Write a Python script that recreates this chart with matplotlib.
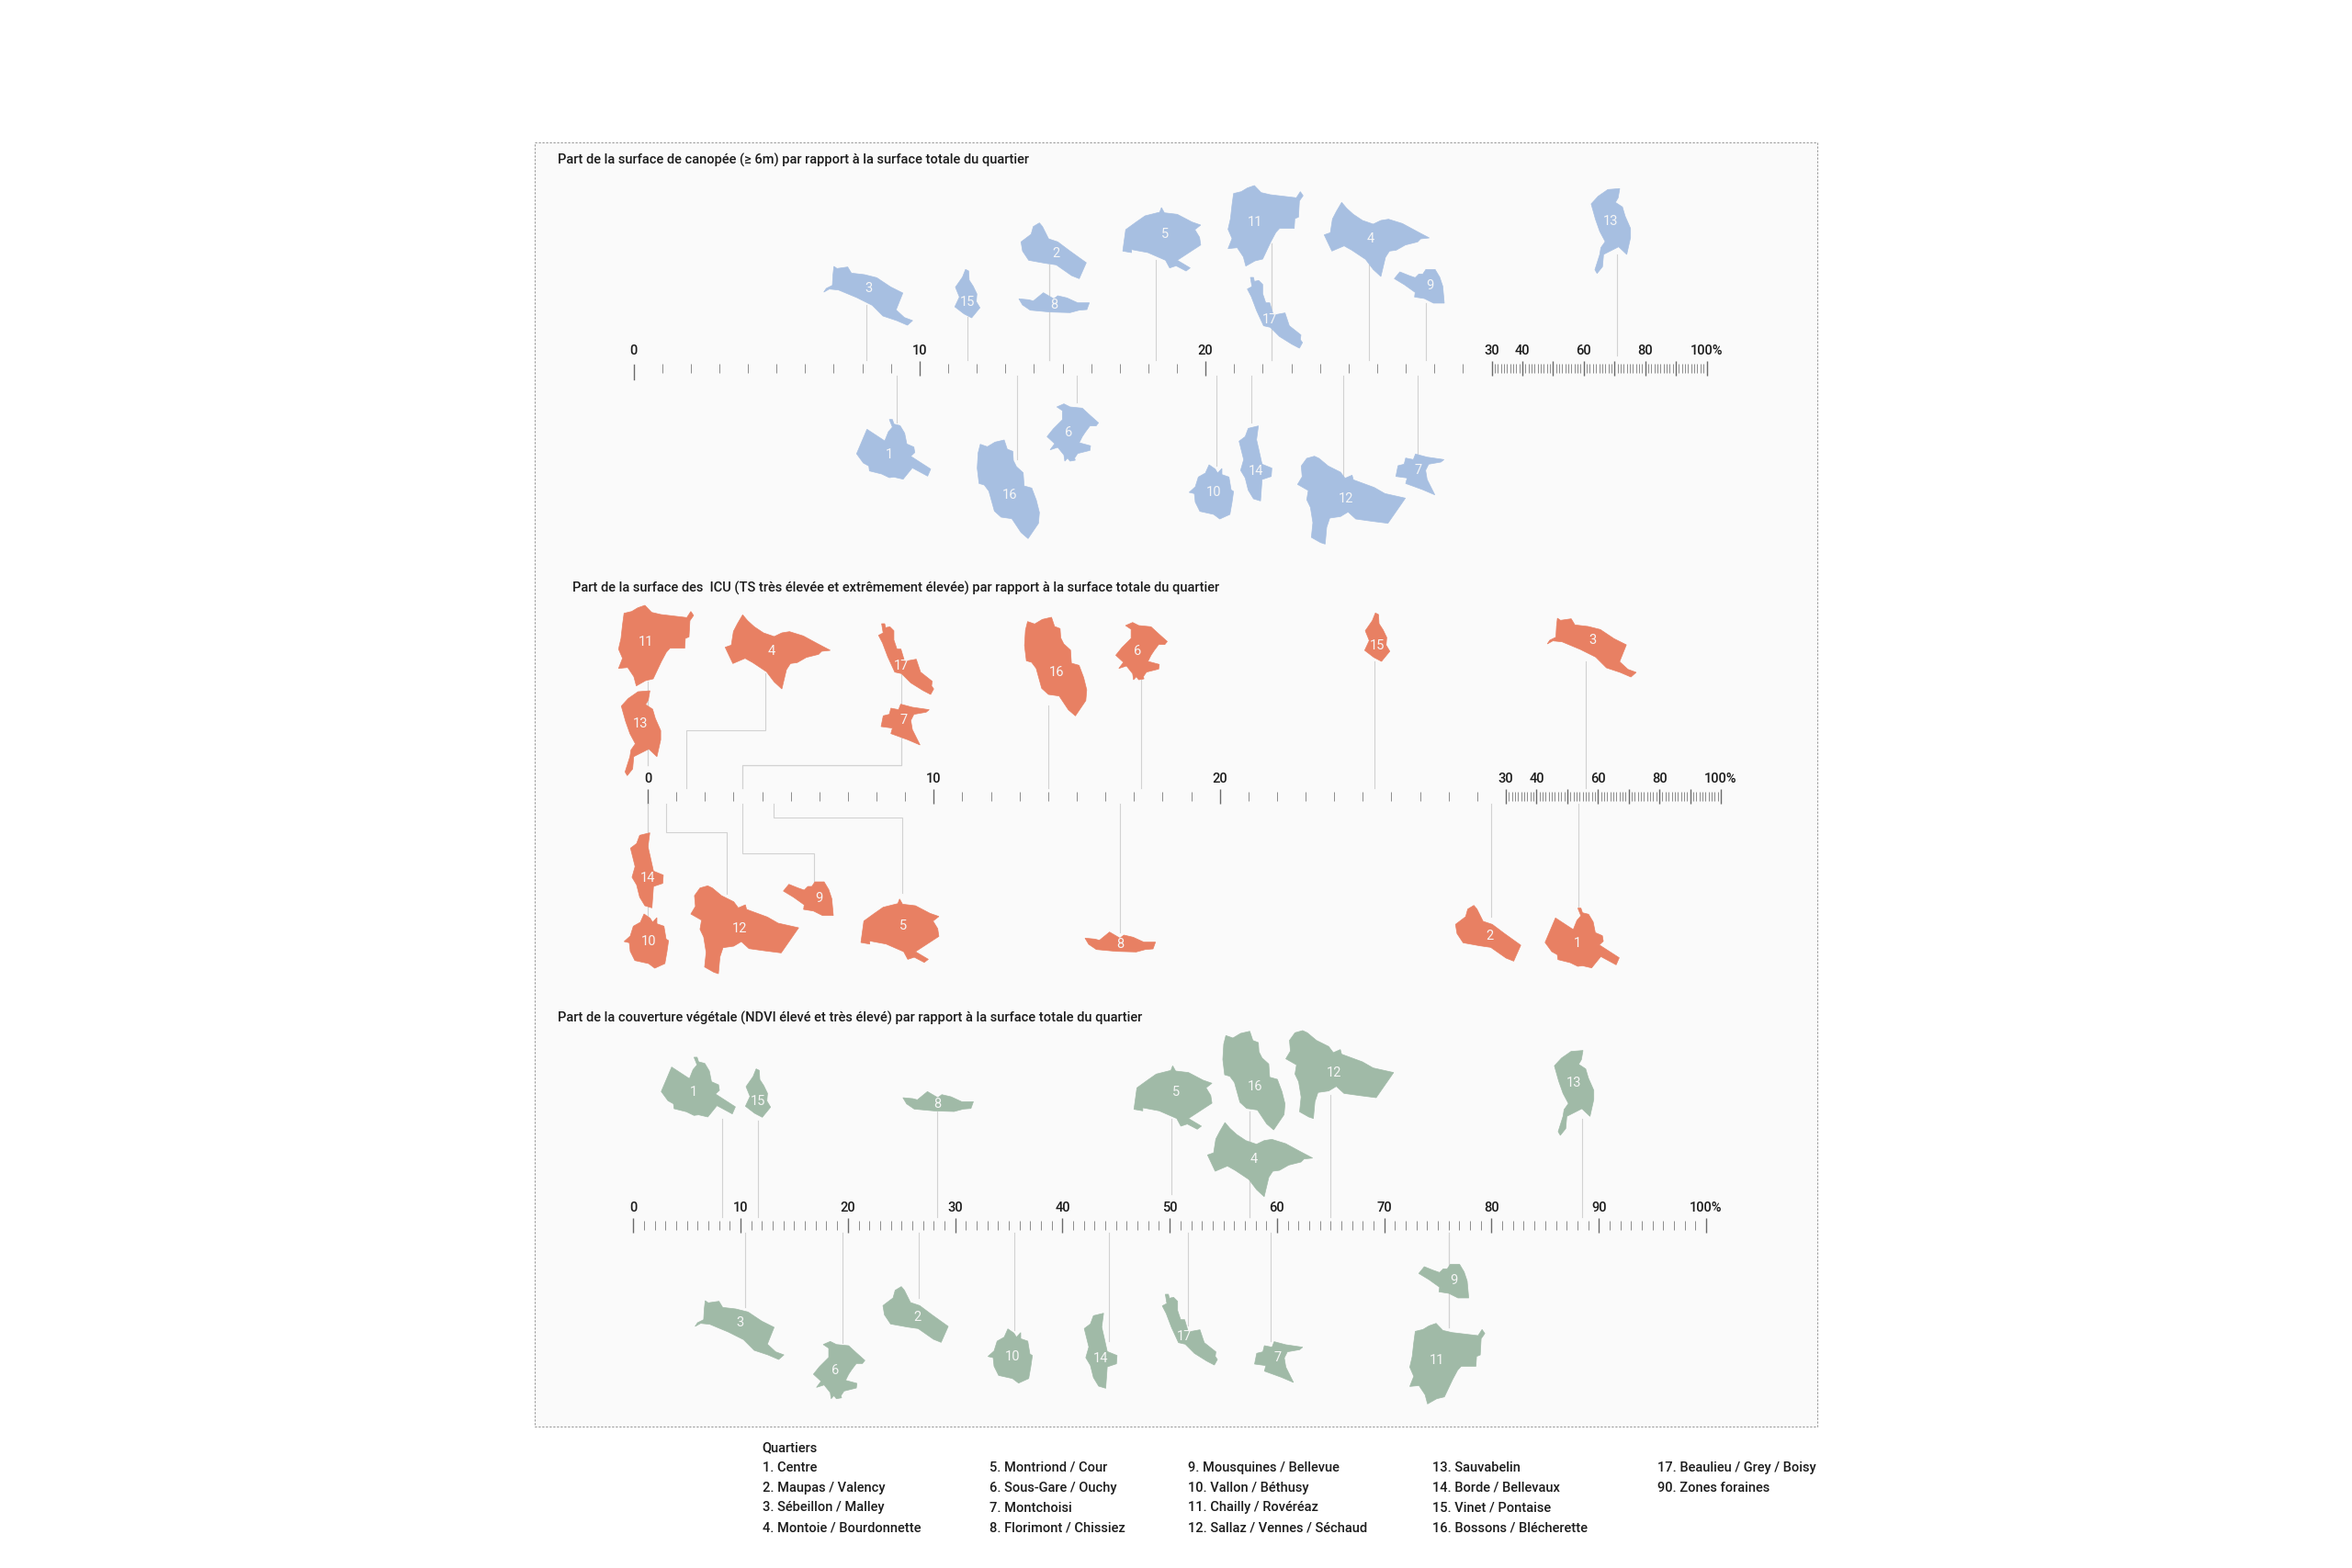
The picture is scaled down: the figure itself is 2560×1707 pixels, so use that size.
import matplotlib
matplotlib.use("Agg")
import matplotlib.pyplot as plt
import numpy as np
from matplotlib.patches import Polygon, Rectangle

plt.rcParams['font.family'] = ['Roboto', 'DejaVu Sans']

W, H = 2560, 1707

QUARTIERS = list(range(1, 18))

# share of each quartier (quartiers 1 to 17)
canopy_values = [9.2, 14.55, 8.15, 25.7, 18.26, 15.5, 27.4, 14.55, 27.7, 20.37, 22.3, 24.8, 70.9, 21.6, 11.66, 13.4, 22.3]
icu_values = [53.5, 29.5, 55.9, 1.36, 4.4, 17.26, 3.3, 16.5, 3.3, 0, 0, 0.64, 0, 0, 25.4, 14.0, 3.3]
ndvi_values = [8.3, 26.6, 10.45, 57.4, 50.2, 19.5, 59.4, 28.3, 76, 35.5, 76, 65, 88.4, 44.3, 11.6, 57.4, 51.7]

titles = [
    "Part de la surface de canopée (≥ 6m) par rapport à la surface totale du quartier",
    "Part de la surface des  ICU (TS très élevée et extrêmement élevée) par rapport à la surface totale du quartier",
    "Part de la couverture végétale (NDVI élevé et très élevé) par rapport à la surface totale du quartier",
]

short_ticks = [0, 10, 20, 30, 40, 50, 60, 70, 80, 90, 100]
short_labels = ["0", "10", "20", "30", "40", "", "60", "", "80", "", "100%"]
full_labels = ["0", "10", "20", "30", "40", "50", "60", "70", "80", "90", "100%"]

legend_title = "Quartiers"
legend_cols = [
    ["1. Centre", "2. Maupas / Valency", "3. Sébeillon / Malley", "4. Montoie / Bourdonnette"],
    ["5. Montriond / Cour", "6. Sous-Gare / Ouchy", "7. Montchoisi", "8. Florimont / Chissiez"],
    ["9. Mousquines / Bellevue", "10. Vallon / Béthusy", "11. Chailly / Rovéréaz", "12. Sallaz / Vennes / Séchaud"],
    ["13. Sauvabelin", "14. Borde / Bellevaux", "15. Vinet / Pontaise", "16. Bossons / Blécherette"],
    ["17. Beaulieu / Grey / Boisy", "90. Zones foraines"],
]

shape_refs = {
    1: (115, 195, 3), 2: (778, 138, 3), 3: (170, 250, 3), 4: (457, 195, 3),
    5: (1079, 315, 1.568), 6: (700, 122, 3), 7: (762, 185, 3), 8: (772, 305, 3),
    9: (647, 348, 3), 10: (95, 258, 3), 11: (80, 142, 3), 12: (528, 282, 3),
    13: (1113, 182, 1.704), 14: (230, 188, 3), 15: (490, 297, 3), 16: (508, 328, 3),
    17: (128, 460, 3),
}
shape_points = {
    1: [(115,80),(125,80),(130,95),(150,100),(165,125),(172,160),(195,170),(198,188),(185,200),(250,242),(240,265),(190,238),(160,275),(130,268),(115,270),(90,258),(50,248),(48,232),(30,222),(8,192),(42,112),(100,150),(112,120),(125,105)],
    2: [(725,38),(735,50),(755,90),(785,100),(825,130),(878,168),(855,220),(830,210),(780,175),(745,170),(690,160),(670,130),(665,100),(698,75),(705,50)],
    3: [(55,178),(65,185),(100,180),(112,200),(155,205),(195,215),(240,245),(280,265),(258,320),(285,345),(312,355),(295,370),(260,355),(215,340),(180,305),(130,280),(70,255),(40,252),(22,262),(30,250),(50,240),(52,205)],
    4: [(362,76),(378,95),(400,115),(430,135),(465,147),(490,135),(515,131),(560,145),(610,172),(648,192),(620,195),(610,205),(570,215),(540,232),(518,235),(505,255),(490,318),(465,295),(440,262),(395,232),(370,218),(330,235),(305,182),(325,175),(332,130),(345,105)],
    5: [(1073,228),(1078,245),(1100,250),(1125,275),(1140,285),(1130,300),(1138,325),(1140,350),(1100,400),(1122,425),(1115,435),(1098,418),(1087,425),(1080,400),(1050,375),(1022,365),(1022,375),(1007,370),(1012,300),(1030,275),(1045,255),(1070,243)],
    6: [(662,38),(685,28),(705,38),(745,42),(770,65),(798,90),(790,100),(770,100),(755,120),(745,135),(735,155),(772,165),(770,180),(730,190),(720,205),(722,212),(705,215),(697,205),(688,215),(685,195),(665,170),(640,178),(655,158),(630,135),(650,110),(680,80),(680,50)],
    7: [(752,132),(790,142),(845,150),(835,158),(795,165),(785,185),(790,215),(815,265),(775,248),(720,228),(725,210),(688,205),(695,170),(715,165),(720,145),(745,150)],
    8: [(658,285),(690,288),(705,292),(738,265),(772,285),(785,275),(815,282),(850,298),(888,298),(880,320),(855,322),(825,330),(760,328),(695,322),(670,305)],
    9: [(550,303),(580,315),(600,322),(612,310),(625,310),(635,295),(665,295),(680,320),(690,350),(695,405),(660,405),(630,390),(598,385),(600,370),(565,345),(532,325)],
    10: [(80,168),(100,182),(108,195),(122,180),(122,200),(145,208),(152,250),(160,255),(155,290),(148,330),(115,345),(95,330),(50,320),(35,290),(32,262),(15,258),(35,240),(45,208),(68,195)],
    11: [(78,22),(100,45),(130,52),(215,62),(228,42),(237,55),(225,72),(222,125),(210,130),(208,162),(160,162),(148,175),(132,205),(105,262),(80,268),(50,285),(42,255),(22,225),(-8,228),(5,195),(-8,165),(0,130),(5,85),(10,48),(35,42),(55,30)],
    12: [(425,143),(440,150),(470,175),(510,195),(525,215),(548,205),(552,220),(620,245),(655,265),(722,280),(665,362),(610,355),(560,348),(535,325),(510,340),(475,345),(465,375),(460,430),(445,425),(415,408),(420,360),(412,310),(400,285),(405,255),(370,235),(385,210),(382,175),(400,150)],
    13: [(1108,78),(1130,75),(1127,105),(1122,120),(1135,135),(1140,165),(1150,205),(1150,235),(1143,290),(1128,265),(1100,290),(1098,330),(1088,352),(1084,340),(1093,290),(1095,268),(1103,248),(1093,215),(1085,175),(1077,125),(1090,100)],
    14: [(238,40),(232,85),(240,120),(250,165),(282,178),(280,205),(250,215),(245,285),(222,278),(205,250),(195,210),(180,185),(190,150),(175,90),(195,75),(205,48)],
    15: [(485,190),(495,195),(497,225),(510,245),(522,270),(520,295),(532,315),(505,348),(480,335),(450,312),(465,280),(452,248),(475,215)],
    16: [(412,162),(435,170),(460,155),(490,148),(500,178),(518,185),(520,215),(530,235),(552,255),(555,298),(580,305),(595,345),(605,385),(602,420),(585,445),(568,470),(545,450),(515,405),(480,400),(458,380),(440,315),(425,295),(408,290),(402,240),(405,190)],
    17: [(65,322),(75,322),(78,335),(92,332),(105,345),(105,375),(115,405),(128,405),(140,445),(178,438),(192,480),(230,510),(228,525),(235,535),(225,553),(200,540),(160,515),(130,485),(108,480),(85,430),(68,385),(55,360),(70,352)],
}

# where each quartier sits in its panel
canopy_pos = {1: (968, 495), 2: (1149, 276), 3: (946, 314), 4: (1492, 260), 5: (1268, 255), 6: (1163, 471),
              7: (1544, 512), 8: (1147, 332), 9: (1556, 311), 10: (1321, 536), 11: (1366, 242), 12: (1465, 543),
              13: (1753, 241), 14: (1367, 513), 15: (1052.6, 329), 16: (1099, 539), 17: (1382, 348)}
icu_pos = {1: (1717.4, 1027), 2: (1621.9, 1019), 3: (1733.5, 697), 4: (840, 709), 5: (983, 1007.7), 6: (1237.8, 709),
           7: (983.7, 784.3), 8: (1219, 1028), 9: (891, 977.7), 10: (706, 1025), 11: (702.6, 699), 12: (804.6, 1010.7),
           13: (697.4, 787.7), 14: (704.6, 956), 15: (1498.7, 703), 16: (1150.5, 732), 17: (980.6, 725)}
ndvi_pos = {1: (755.4, 1189.3), 2: (998.7, 1434), 3: (805.9, 1440), 4: (1365, 1261.7), 5: (1280.2, 1189.3), 6: (908.7, 1491.7),
            7: (1390.2, 1478.3), 8: (1020.8, 1201.7), 9: (1582.6, 1394), 10: (1102, 1476.7), 11: (1563.8, 1480.7), 12: (1452.2, 1168.3),
            13: (1713, 1179.3), 14: (1198.5, 1479), 15: (824.7, 1199.3), 16: (1366.3, 1182.7), 17: (1289.4, 1455)}

# far end of each leader line
canopy_far = {1: 460, 2: 288, 3: 332, 4: 288, 5: 283, 6: 438, 7: 495, 8: 288, 9: 330, 10: 507, 11: 265, 12: 520,
              13: 277, 14: 460, 15: 345, 16: 500, 17: 265}
icu_far = {1: 987, 2: 998, 3: 720, 4: 733, 5: 972, 6: 740, 7: 808, 8: 1015, 9: 960, 10: 1025, 11: 742, 12: 973,
           13: 760, 14: 907, 15: 720, 16: 768, 17: 725}
ndvi_far = {1: 1218, 2: 1413, 3: 1423, 4: 1210, 5: 1218, 6: 1462, 7: 1460, 8: 1210, 9: 1445, 10: 1448, 11: 1445,
            12: 1192, 13: 1218, 14: 1460, 15: 1220, 16: 1210, 17: 1443}

# leaders that stop short of the axis, to leave the tick label free
canopy_gap = {13: 5}
icu_gap = {11: 25, 13: 25}
ndvi_gap = {5: 25}

# elbows of the crowded ICU leaders: (y of the horizontal run, x of the vertical run at the shape)
icu_elbows = {4: (795, 832.7), 7: (833, 980.6), 17: (833, 980.6), 12: (905.7, 791.3), 9: (929.3, 886.2), 5: (890.3, 982)}

BLUE = "#a7bfe1"
ORANGE = "#e88063"
GREEN = "#a0baa7"
PANEL_BG = "#fafafa"
LEADER = "#d2d2d2"
TEXT = "#1c1c1c"

fig = plt.figure(figsize=(W / 100, H / 100), dpi=100, facecolor="white")
base = fig.add_axes([0, 0, 1, 1], zorder=2)
base.set_xlim(0, W)
base.set_ylim(H, 0)
base.axis("off")
base.patch.set_visible(False)

bg = fig.add_axes([0, 0, 1, 1], zorder=0)
bg.set_xlim(0, W)
bg.set_ylim(H, 0)
bg.axis("off")
bg.add_patch(Rectangle((581.5, 155), 1396.5, 1397.5, facecolor=PANEL_BG, edgecolor="#9a9a9a",
                       lw=0.8, linestyle=(0, (2, 1.6))))


def make_scale_axes(knot_vals, knot_px, top, labels):
    # one axes per panel, the share scale is the x axis itself
    knot_px = np.array(knot_px, dtype=float)
    ax = fig.add_axes([knot_px[0] / W, 0, (knot_px[-1] - knot_px[0]) / W, 1], zorder=1)
    ax.patch.set_visible(False)
    ax.set_xscale("function", functions=(lambda v: np.interp(v, knot_vals, knot_px),
                                         lambda p: np.interp(p, knot_px, knot_vals)))
    ax.set_xlim(0, 100)
    ax.set_ylim(H, 0)
    ax.yaxis.set_visible(False)
    for s in ax.spines.values():
        s.set_visible(False)
    ax.spines["top"].set_position(("data", top + 8.5))
    ax.xaxis.tick_top()
    ax.set_xticks(short_ticks, labels)
    ax.set_xticks([v for v in range(101) if v % 10], minor=True)
    ax.tick_params(axis="x", which="major", direction="inout", length=12.2, width=1.0, color="#6a6a6a",
                   labelsize=10.5, labelcolor=TEXT, pad=2.2)
    ax.tick_params(axis="x", which="minor", direction="inout", length=6.5, width=0.7, color="#8c8c8c")
    for lab in ax.get_xticklabels():
        lab.set_fontweight("medium")
    return ax


def draw_panel(ax, values, positions, far, gaps, color, top, elbows=None):
    elbows = elbows or {}
    for q, v in zip(QUARTIERS, values):
        x = ax.transData.transform((v, 0))[0]
        y_far = far[q]
        above = y_far < top
        y_near = top - gaps.get(q, 0) if above else top + 17
        if q in elbows:
            y_el, x_el = elbows[q]
            xs, ys = [x, x, x_el, x_el], [y_near, y_el, y_el, y_far]
        else:
            xs, ys = [x, x], [y_near, y_far]
        base.plot(xs, ys, color=LEADER, lw=0.8, zorder=1, solid_joinstyle="miter")

    for q in QUARTIERS:
        lx, ly, sx = shape_refs[q]
        px, py = positions[q]
        pts = [(px + (a - lx) / sx, py + (b - ly) / 3) for a, b in shape_points[q]]
        base.add_patch(Polygon(pts, closed=True, facecolor=color, edgecolor=color, lw=0.5, zorder=2))
        base.text(px, py, str(q), color="#f6f6f6", fontsize=10.5, ha="center", va="center", zorder=3)


top1, top2, top3 = 392, 858, 1325
ax1 = make_scale_axes([0, 30, 100], [689.5, 1623.5, 1857.5], top1, short_labels)
ax2 = make_scale_axes([0, 30, 100], [705, 1639, 1873], top2, short_labels)
ax3 = make_scale_axes([0, 100], [689.3, 1857], top3, full_labels)

# the 0 tick of the first scale hangs a little lower than the others
ax1.xaxis.get_major_ticks()[0].tick2line.set_visible(False)
ax1.plot([0, 0], [top1 + 5, top1 + 21], color="#6a6a6a", lw=1.0, clip_on=False)

draw_panel(ax1, canopy_values, canopy_pos, canopy_far, canopy_gap, BLUE, top1)
draw_panel(ax2, icu_values, icu_pos, icu_far, icu_gap, ORANGE, top2, icu_elbows)
draw_panel(ax3, ndvi_values, ndvi_pos, ndvi_far, ndvi_gap, GREEN, top3)

title_spots = [(607, 174.5), (623, 640.5), (607, 1108.5)]
for t, (x, y) in zip(titles, title_spots):
    base.text(x, y, t, fontsize=10.5, fontweight="medium", color=TEXT, ha="left", va="center")

legend_x = [829.6, 1077, 1293, 1558.7, 1803.9]
legend_y = [1597.8, 1619.8, 1641.5, 1663.2]
base.text(legend_x[0], 1576.2, legend_title, fontsize=10.5, fontweight="medium", color=TEXT, ha="left", va="center")
for x, col in zip(legend_x, legend_cols):
    for y, row in zip(legend_y, col):
        base.text(x, y, row, fontsize=10.5, fontweight="medium", color=TEXT, ha="left", va="center")

fig.savefig("out.png", dpi=100, facecolor="white")
